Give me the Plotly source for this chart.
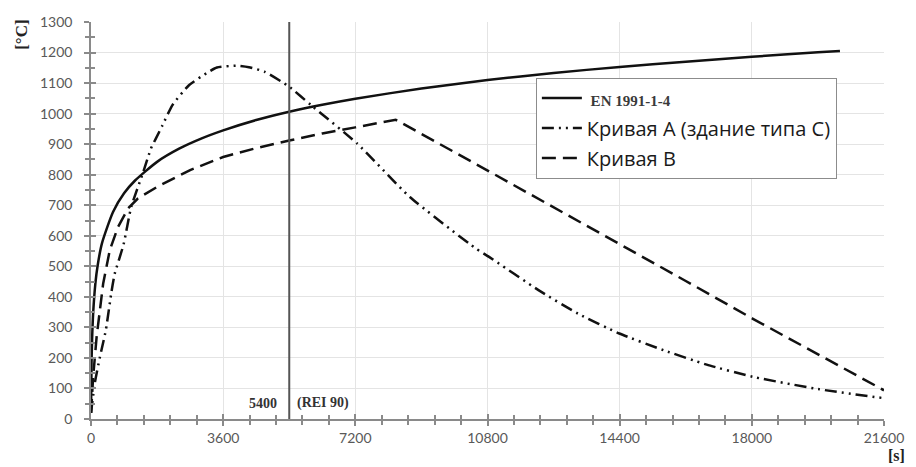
import plotly.graph_objects as go

# Standard fire curve EN 1991-1-2 (time in s, temperature in °C)
en_time = [0, 15, 30, 60, 120, 180, 300, 600, 900, 1200, 1800, 2400, 3000, 3600,
           4500, 5400, 6300, 7200, 9000, 10800, 12600, 14400, 16200, 18000, 19800, 20400]
en_temp = [20, 185, 261, 349, 445, 502, 576, 678, 739, 781, 842, 885, 918, 945,
           979, 1006, 1029, 1049, 1082, 1110, 1133, 1153, 1170, 1186, 1201, 1205]

# Curve A (building type C)
a_time = [0, 108, 243, 404, 557, 647, 888, 1097, 1410, 1634, 1769, 1948, 2218, 2668,
          3207, 3430, 3970, 4300, 4734, 5400, 5991, 7249, 8685, 10485, 10842, 12188,
          13266, 14391, 15603, 16770, 18030, 19800, 21600]
a_temp = [20, 121, 203, 291, 416, 476, 572, 695, 804, 886, 919, 962, 1028, 1093,
          1137, 1151, 1157, 1152, 1137, 1088, 1028, 902, 727, 558, 531, 422,
          345, 280, 225, 178, 138, 98, 68]

# Curve B
b_time = [0, 60, 153, 332, 512, 737, 1006, 1275, 1800, 2700, 3600, 4500, 5400,
          6300, 7200, 8300, 10842, 12600, 14436, 16200, 18030, 19800, 21600]
b_temp = [20, 140, 269, 444, 553, 629, 689, 722, 760, 815, 858, 887, 912,
          935, 955, 980, 811, 694, 572, 452, 328, 212, 94]

# Required fire resistance time
rei_time = 5400
rei_label_left = "5400"
rei_label_right = "(REI 90)"

x_ticks = [0, 3600, 7200, 10800, 14400, 18000, 21600]
y_ticks = list(range(0, 1301, 100))

series_names = [
    '<span style="font-family:\'Liberation Serif\';font-weight:bold;font-size:15px;color:#3a3a3a"> EN 1991-1-4</span>',
    "Кривая А (здание типа С)",
    "Кривая В",
]

fig = go.Figure()
fig.add_trace(go.Scatter(x=en_time, y=en_temp, mode="lines", name=series_names[0],
                         legendgroup="g1",
                         line=dict(color="#111111", width=2.5, shape="spline", smoothing=0.6)))
fig.add_trace(go.Scatter(x=a_time, y=a_temp, mode="lines", name=series_names[1],
                         legendgroup="g2",
                         line=dict(color="#111111", width=2.5, shape="spline", smoothing=0.5,
                                   dash="12px,5px,2px,5px,2px,5px")))
fig.add_trace(go.Scatter(x=b_time, y=b_temp, mode="lines", name=series_names[2],
                         legendgroup="g3",
                         line=dict(color="#111111", width=2.5, dash="14px,7px")))

axis_col = "#8a8a8a"
grid_col = "#e4e4e4"
tick_font = dict(family="Lato", size=14, color="#595959")

fig.update_layout(
    width=916, height=467,
    margin=dict(l=91, r=23, t=22, b=48),
    paper_bgcolor="white", plot_bgcolor="white",
    showlegend=True,
    legend=dict(
        x=0.561, y=0.86, xanchor="left", yanchor="top",
        bgcolor="white", bordercolor="#8c8c8c", borderwidth=1,
        font=dict(family="Open Sans", size=20, color="#1a1a1a"),
        traceorder="grouped", tracegroupgap=1,
        itemwidth=40,
    ),
    xaxis=dict(
        range=[0, 21600], tickvals=x_ticks, ticktext=[str(v) for v in x_ticks],
        showgrid=True, gridcolor=grid_col, gridwidth=1,
        showline=True, linecolor=axis_col, linewidth=1.5,
        ticks="outside", ticklen=5, tickcolor=axis_col, tickwidth=1.5,
        minor=dict(dtick=720, ticks="outside", ticklen=4, tickcolor=axis_col, showgrid=False),
        tickfont=tick_font, zeroline=False, fixedrange=True,
    ),
    yaxis=dict(
        range=[0, 1300], tickvals=y_ticks,
        showgrid=True, gridcolor=grid_col, gridwidth=1,
        showline=True, linecolor=axis_col, linewidth=1.5,
        ticks="outside", ticklen=5, tickcolor=axis_col, tickwidth=1.5,
        minor=dict(dtick=50, ticks="outside", ticklen=4, tickcolor=axis_col, showgrid=False),
        tickfont=tick_font, zeroline=False, ticklabelstandoff=9, fixedrange=True,
    ),
    # inner half of the crossing tick marks
    xaxis2=dict(
        range=[0, 21600], overlaying="x", matches="x", tickvals=x_ticks,
        showticklabels=False, showgrid=False, showline=False,
        ticks="inside", ticklen=5, tickcolor=axis_col, tickwidth=1.5,
        minor=dict(dtick=720, ticks="inside", ticklen=4, tickcolor=axis_col, showgrid=False),
        zeroline=False,
    ),
    yaxis2=dict(
        range=[0, 1300], overlaying="y", matches="y", tickvals=y_ticks,
        showticklabels=False, showgrid=False, showline=False,
        ticks="inside", ticklen=5, tickcolor=axis_col, tickwidth=1.5,
        minor=dict(dtick=50, ticks="inside", ticklen=4, tickcolor=axis_col, showgrid=False),
        zeroline=False,
    ),
)

# invisible trace so the overlay axes get drawn
fig.add_trace(go.Scatter(x=[0], y=[0], xaxis="x2", yaxis="y2", mode="markers",
                         marker=dict(opacity=0), showlegend=False, hoverinfo="skip"))

# vertical marker at the required resistance time
fig.add_shape(type="line", xref="x", yref="paper", x0=rei_time, x1=rei_time, y0=0, y1=1,
              line=dict(color="#555555", width=2))

lab_font = dict(family="Liberation Serif", size=14, color="#333333")
fig.add_annotation(x=rei_time, y=52, xref="x", yref="y", text=f"<b>{rei_label_left}</b>",
                   showarrow=False, xanchor="right", xshift=-10, font=lab_font)
fig.add_annotation(x=rei_time, y=52, xref="x", yref="y", text=f"<b>{rei_label_right}</b>",
                   showarrow=False, xanchor="left", xshift=6, font=lab_font)

# axis unit labels
title_font = dict(family="Liberation Serif", size=17, color="#222222")
fig.add_annotation(x=-71 / 802, y=1.0, xref="paper", yref="paper", text="<b>[°C]</b>",
                   textangle=-90, showarrow=False, xanchor="center", yanchor="top",
                   yshift=4, font=title_font)
fig.add_annotation(x=1.0, y=0, xref="paper", yref="paper", text="<b>[s]</b>",
                   showarrow=False, xanchor="left", yanchor="top", xshift=2, yshift=-26,
                   font=dict(family="Liberation Serif", size=16, color="#222222"))

fig.write_html("out.html")
